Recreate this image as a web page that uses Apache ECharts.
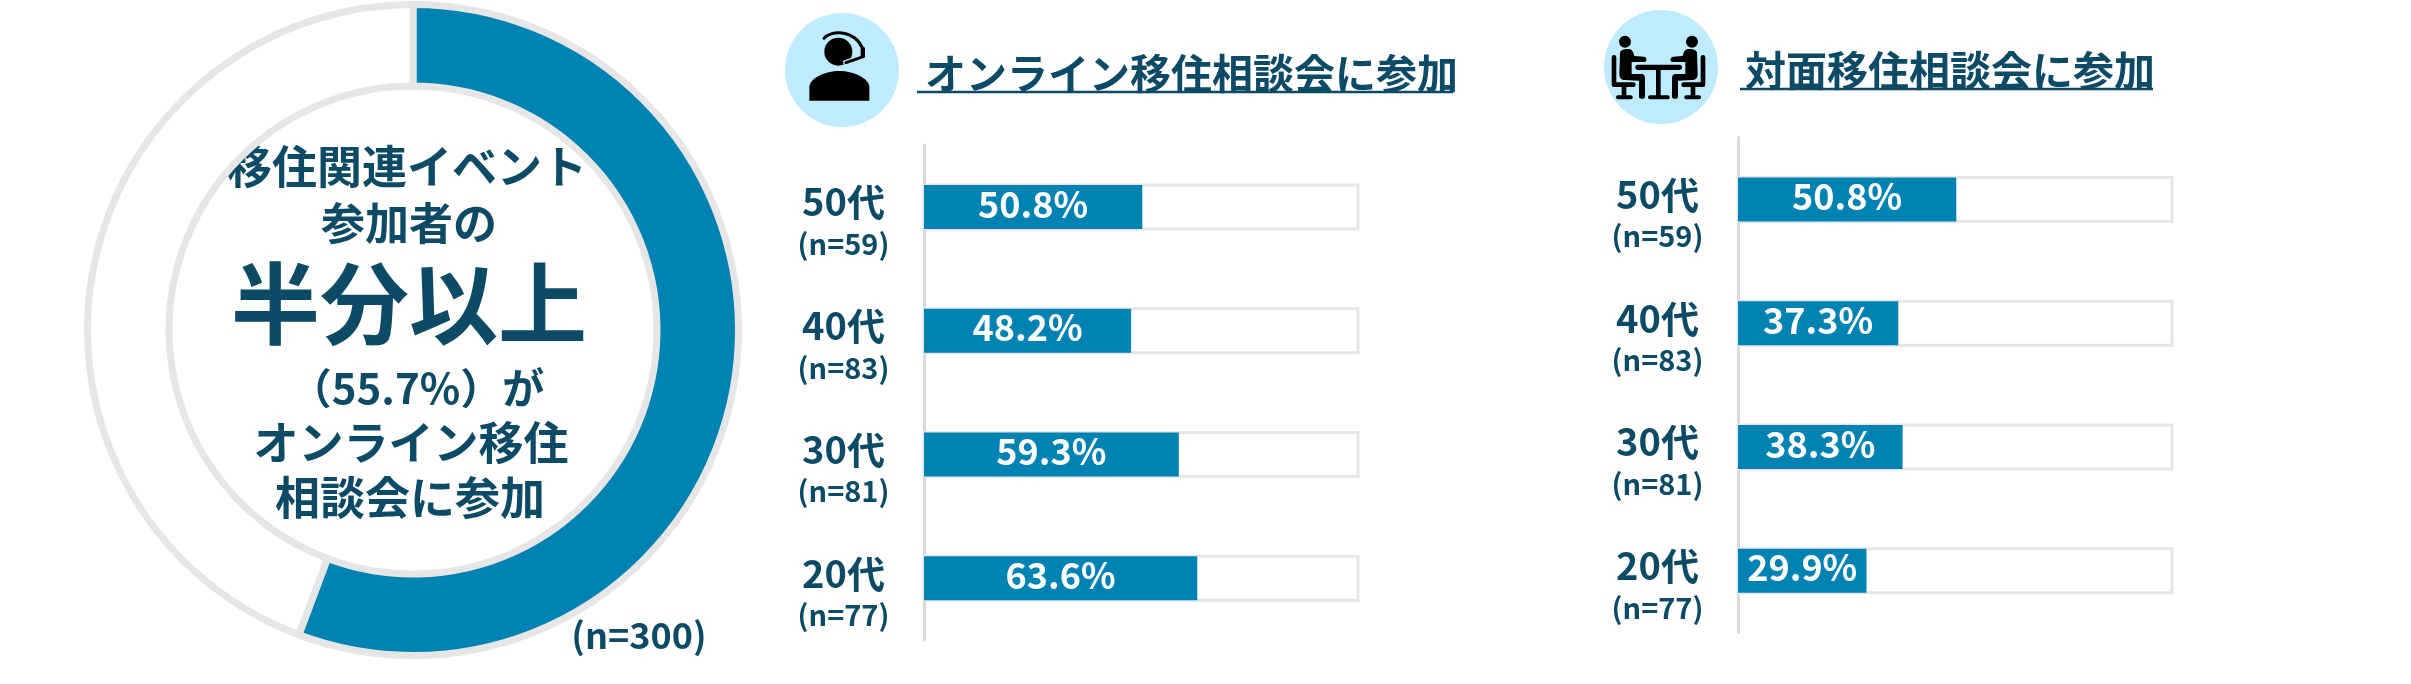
<!DOCTYPE html>
<html>
<head>
<meta charset="utf-8">
<script src="https://cdn.jsdelivr.net/npm/echarts@6/dist/echarts.min.js"></script>
<style>
html,body{margin:0;padding:0;background:#fff}
#main{width:2411px;height:684px}
</style>
</head>
<body>
<div id="main"></div>
<script>
var ageGroups = ['50代', '40代', '30代', '20代'];
var sampleSizes = ['(n=59)', '(n=83)', '(n=81)', '(n=77)'];
var onlineValues = [50.8, 48.2, 59.3, 63.6];
var faceValues = [50.8, 37.3, 38.3, 29.9];
var donutValues = [55.7, 44.3];
var onlineTitle = 'オンライン移住相談会に参加';
var faceTitle = '対面移住相談会に参加';

var BLUE = '#0083b3', DARK = '#0d4a66', GRAY = '#e6e6e6', AXIS = '#d9d9d9', SKY = '#bfebff';
var FONT = '"Noto Sans CJK JP", sans-serif';

// icon outlines, graphic has no plain path type here
echarts.graphic.registerShape('iconTorso', echarts.graphic.extendPath('M60 160C60 150 70 147 85 147C95 147 100 155 103 168L132 170C142 172 142 186 132 186L95 186L95 222L125 222C133 222 135 230 135 236L135 290C135 298 117 298 117 290L117 242L75 240C62 240 58 232 58 222Z', {}));
echarts.graphic.registerShape('iconBody', echarts.graphic.extendPath('M118 302L118 262C118 235 165 213 208 213C250 213 298 235 298 262L298 302Z', {}));
echarts.graphic.registerShape('iconBand', echarts.graphic.extendPath('M162 115C180 92 250 85 278 145', {}));

var myChart = echarts.init(document.getElementById('main'));

function centerText(text, x, y, size) {
    return {
        type: 'text', silent: true,
        style: {
            text: text, x: x, y: y, fill: DARK,
            font: 'bold ' + size + 'px ' + FONT,
            textAlign: 'center', textVerticalAlign: 'middle'
        }
    };
}

function blackLine(points, width) {
    return {
        type: 'polyline', silent: true,
        shape: {points: points},
        style: {stroke: '#000', lineWidth: width, fill: null, lineCap: 'round', lineJoin: 'round'}
    };
}

// person at a table, drawn once and mirrored for the other side
function person() {
    return [
        {type: 'circle', silent: true, shape: {cx: 75, cy: 125, r: 18}, style: {fill: '#000'}},
        {type: 'iconTorso', silent: true, style: {fill: '#000'}},
        blackLine([[42, 172], [42, 254], [100, 254]], 14),
        blackLine([[72, 256], [72, 290]], 14),
        blackLine([[54, 292], [92, 292]], 12)
    ];
}

function barSeries(i, values) {
    return {
        type: 'bar', xAxisIndex: i, yAxisIndex: i, barWidth: 44, silent: true,
        data: values,
        itemStyle: {color: BLUE},
        showBackground: true,
        backgroundStyle: {color: '#fff', borderColor: GRAY, borderWidth: 3},
        label: {
            show: true, position: 'inside', offset: [0, -3],
            formatter: function (p) { return p.value.toFixed(1) + '%'; },
            color: '#fff', fontFamily: FONT, fontWeight: 'bold', fontSize: 36
        }
    };
}

var option = {
    animation: false,
    backgroundColor: '#fff',
    title: [
        {text: onlineTitle, left: 920, top: 43, textStyle: {color: DARK, fontFamily: FONT, fontWeight: 'bold', fontSize: 41, lineHeight: 50}},
        {text: faceTitle, left: 1740, top: 40, textStyle: {color: DARK, fontFamily: FONT, fontWeight: 'bold', fontSize: 41, lineHeight: 50}}
    ],
    grid: [
        {left: 924, top: 145, width: 434, height: 495},
        {left: 1738, top: 137.5, width: 434, height: 495}
    ],
    xAxis: [0, 1].map(function (i) {
        return {type: 'value', gridIndex: i, min: 0, max: 101, show: false};
    }),
    yAxis: [0, 1].map(function (i) {
        return {
            type: 'category', gridIndex: i, inverse: true, data: ageGroups, offset: 1.5,
            axisTick: {show: false},
            axisLine: {lineStyle: {color: AXIS, width: 3}},
            axisLabel: {
                margin: i === 0 ? 79 : 79, align: 'center', interval: 0, padding: [32, 0, 0, 0],
                formatter: function (v, idx) {
                    return '{a|' + v + '}\n{b|' + sampleSizes[idx] + '}';
                },
                rich: {
                    a: {fontFamily: FONT, fontWeight: 'bold', fontSize: 38, color: DARK, lineHeight: 42},
                    b: {fontFamily: FONT, fontWeight: 'bold', fontSize: 29, color: DARK, lineHeight: 42}
                }
            }
        };
    }),
    series: [
        {
            type: 'pie', center: [413, 330], radius: [244, 325.5], startAngle: 90, silent: true,
            label: {show: false}, labelLine: {show: false},
            data: [
                {value: donutValues[0], itemStyle: {color: BLUE, borderColor: GRAY, borderWidth: 7}},
                {value: donutValues[1], itemStyle: {color: '#fff', borderColor: GRAY, borderWidth: 7}}
            ]
        },
        barSeries(0, onlineValues),
        barSeries(1, faceValues)
    ],
    graphic: {
        elements: [
            centerText('移住関連イベント', 407, 167, 45),
            centerText('参加者の', 409, 223, 44),
            centerText('半分以上', 409, 303, 89),
            centerText('（55.7%）が', 417, 388, 42),
            centerText('オンライン移住', 411, 443, 45),
            centerText('相談会に参加', 410, 498, 45),
            centerText('(n=300)', 639, 635, 36),
            // underlines
            {type: 'line', silent: true, shape: {x1: 917, y1: 92, x2: 1453, y2: 92}, style: {stroke: DARK, lineWidth: 2.5}},
            {type: 'line', silent: true, shape: {x1: 1740, y1: 89, x2: 2153, y2: 89}, style: {stroke: DARK, lineWidth: 2.5}},
            // icon badges
            {type: 'circle', silent: true, shape: {cx: 842, cy: 70, r: 57}, style: {fill: SKY}},
            {type: 'circle', silent: true, shape: {cx: 1661, cy: 67, r: 57}, style: {fill: SKY}},
            // headset operator
            {
                type: 'group', x: 770, y: 0, scaleX: 1 / 3, scaleY: 1 / 3,
                children: [
                    {type: 'iconBody', silent: true, style: {fill: '#000'}},
                    {type: 'circle', silent: true, shape: {cx: 205, cy: 155, r: 42}, style: {fill: '#000'}},
                    {type: 'iconBand', silent: true, style: {stroke: '#000', lineWidth: 9, fill: null, lineCap: 'round'}},
                    {type: 'polyline', silent: true, shape: {points: [[280, 170], [228, 188]]}, style: {stroke: SKY, lineWidth: 17, fill: null, lineCap: 'round'}},
                    {type: 'polyline', silent: true, shape: {points: [[280, 170], [228, 188]]}, style: {stroke: '#000', lineWidth: 9, fill: null, lineCap: 'round'}},
                    {type: 'rect', silent: true, shape: {x: 272, y: 142, width: 13, height: 30, r: 3}, style: {fill: '#000'}}
                ]
            },
            // people at a table
            {
                type: 'group', x: 1600, y: 0, scaleX: 1 / 3, scaleY: 1 / 3,
                children: [
                    {type: 'group', children: person()},
                    {type: 'group', x: 351, scaleX: -1, children: person()},
                    blackLine([[114, 202], [238, 202]], 16),
                    {type: 'rect', silent: true, shape: {x: 168, y: 202, width: 14, height: 88}, style: {fill: '#000'}},
                    blackLine([[150, 292], [203, 292]], 12)
                ]
            }
        ]
    }
};

myChart.setOption(option);
</script>
</body>
</html>
